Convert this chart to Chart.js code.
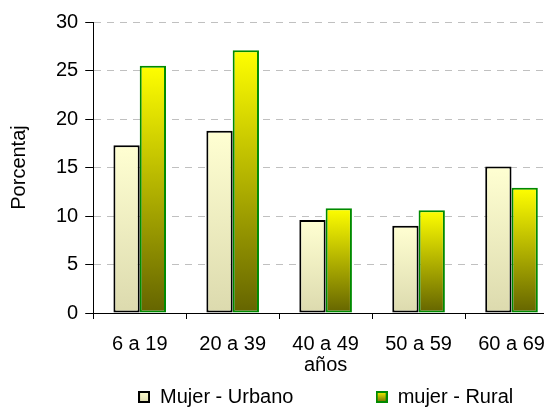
<!DOCTYPE html>
<html>
<head>
<meta charset="utf-8">
<script src="https://cdn.jsdelivr.net/npm/chart.js@4/dist/chart.umd.min.js"></script>
<style>
    html, body { margin: 0; padding: 0; background: #fff; overflow: hidden; }
    #wrap { width: 544px; height: 409px; overflow: hidden; }
</style>
</head>
<body>
<div id="wrap"><canvas id="chart" width="570" height="417"></canvas></div>
<script>
// Data
const categories = ['6 a 19', '20 a 39', '40 a 49', '50 a 59', '60 a 69'];
const urbano = [17.3, 18.8, 9.6, 9.0, 15.1];
const rural = [25.5, 27.1, 10.8, 10.6, 12.9];
const yTicks = [0, 5, 10, 15, 20, 25, 30];
const seriesNames = ['Mujer - Urbano', 'mujer - Rural'];

const FONT = "'Liberation Sans', Arial, sans-serif";

// vertical gradient for each bar, from its top down to zero
function barGradient(top, bottom) {
    return (ctx) => {
        const chart = ctx.chart;
        if (!chart.chartArea || !ctx.parsed) return bottom;
        const y = chart.scales.y;
        const g = chart.ctx.createLinearGradient(0, y.getPixelForValue(ctx.parsed.y), 0, y.getPixelForValue(0));
        g.addColorStop(0, top);
        g.addColorStop(1, bottom);
        return g;
    };
}

// small swatch for the legend
function swatch(top, bottom, border) {
    const c = document.createElement('canvas');
    c.width = 12; c.height = 12;
    const x = c.getContext('2d');
    const g = x.createLinearGradient(0, 0, 0, 12);
    g.addColorStop(0, top);
    g.addColorStop(1, bottom);
    x.fillStyle = g;
    x.fillRect(0, 0, 12, 12);
    x.strokeStyle = border;
    x.lineWidth = 2;
    x.strokeRect(1, 1, 10, 10);
    return c;
}

const styles = [
    { top: '#FFFFD2', bottom: '#DCDAAE', border: '#000000' },
    { top: '#FFFF00', bottom: '#646400', border: '#008A00' }
];

new Chart(document.getElementById('chart'), {
    type: 'bar',
    data: {
        labels: categories,
        datasets: [urbano, rural].map((vals, i) => ({
            label: seriesNames[i],
            data: vals,
            backgroundColor: barGradient(styles[i].top, styles[i].bottom),
            borderColor: styles[i].border,
            borderWidth: 2,
            borderSkipped: false,
            categoryPercentage: 0.566,
            barPercentage: 1
        }))
    },
    options: {
        responsive: false,
        animation: false,
        layout: { padding: { top: 22, right: 12, left: 0, bottom: 0 } },
        scales: {
            x: {
                grid: { offset: true, drawOnChartArea: false, tickLength: 6, color: '#000' },
                border: { color: '#000', width: 1 },
                ticks: { color: '#000', padding: 13, font: { family: FONT, size: 20 } },
                title: {
                    display: true, text: 'años', color: '#000',
                    padding: { top: -16, bottom: 0 },
                    font: { family: FONT, size: 20 }
                }
            },
            y: {
                min: 0, max: 30,
                afterBuildTicks: (axis) => { axis.ticks = yTicks.map(v => ({ value: v })); },
                grid: { color: '#c0c0c0', tickColor: '#000', tickLength: 8 },
                border: { color: '#000', width: 1, dash: [7, 6] },
                ticks: { color: '#000', padding: 7, font: { family: FONT, size: 20 } },
                title: {
                    display: true, text: 'Porcentaj', color: '#000',
                    padding: { top: 7, bottom: 18 },
                    font: { family: FONT, size: 20 }
                }
            }
        },
        plugins: {
            legend: {
                position: 'bottom',
                fullSize: false,
                labels: {
                    color: '#000',
                    font: { family: FONT, size: 20 },
                    boxWidth: 12, boxHeight: 12,
                    padding: 10,
                    usePointStyle: true,
                    generateLabels: () => seriesNames.map((name, i) => ({
                        // trailing spaces keep the wide gap between the two entries
                        text: i === 0 ? name + '             ' : name,
                        pointStyle: swatch(styles[i].top, styles[i].bottom, styles[i].border),
                        fillStyle: styles[i].top,
                        strokeStyle: styles[i].border,
                        lineWidth: 0,
                        datasetIndex: i
                    }))
                }
            },
            tooltip: { enabled: false }
        }
    }
});
</script>
</body>
</html>
